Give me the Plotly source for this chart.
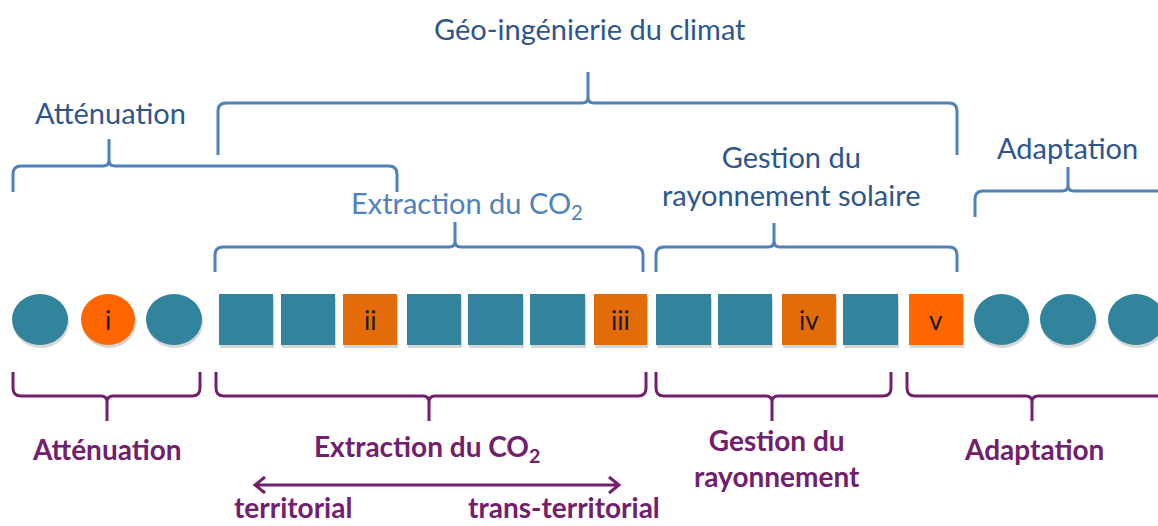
import plotly.graph_objects as go

# ---------------- data (diagram content) ----------------
item_kinds = ["circle", "circle", "circle",
              "square", "square", "square", "square", "square", "square",
              "square", "square", "square", "square", "square", "square",
              "circle", "circle", "circle"]
item_labels = ["", "i", "", "", "", "ii", "", "", "", "iii", "", "", "iv", "", "v", "", "", ""]
item_group = ["neutral", "bright", "neutral", "neutral", "neutral", "dark", "neutral", "neutral",
              "neutral", "dark", "neutral", "neutral", "dark", "neutral", "bright", "neutral",
              "neutral", "neutral"]

top_titles = ["Géo-ingénierie du climat", "Atténuation", "Extraction du CO<sub>2</sub>",
              "Gestion du<br>rayonnement solaire", "Adaptation"]
bottom_titles = ["Atténuation", "Extraction du CO<sub>2</sub>", "Gestion du<br>rayonnement",
                 "Adaptation"]
arrow_labels = ["territorial", "trans-territorial"]

# ---------------- layout geometry (positions / sizes) ----------------
item_x0 = [12, 81, 146, 219, 281, 343, 407, 468, 530, 594, 656, 718, 782, 843, 909, 974, 1040, 1108]
item_x1 = [68, 135, 202, 273, 335, 397, 461, 523, 585, 647, 711, 772, 836, 898, 963, 1029, 1096, 1164]
ITEM_Y0, ITEM_Y1 = 294, 345

# top brackets: x0, x1, xtip, y_horizontal, y_end, y_tip
top_brackets = [
    (218, 957, 588, 103, 155, 72),
    (13, 397, 109, 166, 192, 139),
    (215, 643, 455, 247, 272, 222),
    (656, 957, 774, 247, 272, 223),
    (975, 1175, 1068, 191, 217, 167),
]
top_text_pos = [(590, 28), (110, 112), (467, 204), (791, 175), (1067, 147)]
top_text_col = ["#2E568C", "#2E568C", "#4F81BD", "#2E568C", "#2E568C"]

bottom_brackets = [
    (13, 200, 107, 396, 372, 421),
    (216, 646, 429, 396, 372, 421),
    (656, 891, 772, 396, 372, 421),
    (907, 1175, 1032, 396, 372, 421),
]
bottom_text_pos = [(107, 449), (427, 448), (777, 458), (1034, 449)]
arrow_y, arrow_xa, arrow_xb = 485, 255, 619
arrow_text_pos = [(293, 526), (564, 526)]

COLORS = {"neutral": "#31849B", "bright": "#FF6600", "dark": "#E36C09"}
BLUE = "#4F81BD"
PURPLE = "#71206E"
FONT = "Lato"


def bracket_path(x0, x1, xt, yh, ye, yt, r=8, s=6):
    d = 1 if ye > yh else -1   # direction of the ends
    return (f"M {x0},{ye} L {x0},{yh + d * r} Q {x0},{yh} {x0 + r},{yh} "
            f"L {xt - s},{yh} Q {xt},{yh} {xt},{yh - d * s} L {xt},{yt} "
            f"L {xt},{yh - d * s} Q {xt},{yh} {xt + s},{yh} "
            f"L {x1 - r},{yh} Q {x1},{yh} {x1},{yh + d * r} L {x1},{ye}")


shapes = []
annotations = []

# items with soft shadow
for kind, lab, grp, x0, x1 in zip(item_kinds, item_labels, item_group, item_x0, item_x1):
    stype = "circle" if kind == "circle" else "rect"
    shapes.append(dict(type=stype, xref="x", yref="y", x0=x0 + 1, x1=x1 + 1,
                       y0=ITEM_Y0 + 3, y1=ITEM_Y1 + 3,
                       fillcolor="rgba(0,0,0,0.16)", line=dict(width=0), layer="below"))
    shapes.append(dict(type=stype, xref="x", yref="y", x0=x0, x1=x1, y0=ITEM_Y0, y1=ITEM_Y1,
                       fillcolor=COLORS[grp], line=dict(width=0), layer="below"))
    if lab:
        annotations.append(dict(x=(x0 + x1) / 2, y=(ITEM_Y0 + ITEM_Y1) / 2, xref="x", yref="y",
                                text=lab, showarrow=False,
                                font=dict(family=FONT, size=26, color="#1A1A1A")))

for (x0, x1, xt, yh, ye, yt) in top_brackets:
    shapes.append(dict(type="path", xref="x", yref="y",
                       path=bracket_path(x0, x1, xt, yh, ye, yt),
                       line=dict(color=BLUE, width=3)))
for (x0, x1, xt, yh, ye, yt) in bottom_brackets:
    shapes.append(dict(type="path", xref="x", yref="y",
                       path=bracket_path(x0, x1, xt, yh, ye, yt),
                       line=dict(color=PURPLE, width=3)))

for txt, (x, y), col in zip(top_titles, top_text_pos, top_text_col):
    annotations.append(dict(x=x, y=y, xref="x", yref="y", text=txt, showarrow=False,
                            font=dict(family=FONT, size=29, color=col)))
for txt, (x, y) in zip(bottom_titles, bottom_text_pos):
    annotations.append(dict(x=x, y=y, xref="x", yref="y", text=txt, showarrow=False,
                            font=dict(family=FONT, size=28, color=PURPLE, weight="bold")))
for txt, (x, y) in zip(arrow_labels, arrow_text_pos):
    annotations.append(dict(x=x, y=y, xref="x", yref="y", yanchor="bottom", text=txt,
                            showarrow=False,
                            font=dict(family=FONT, size=28, color=PURPLE, weight="bold")))

# double arrow
shapes.append(dict(type="path", xref="x", yref="y",
                   path=(f"M {arrow_xa},{arrow_y} L {arrow_xb},{arrow_y} "
                         f"M {arrow_xa + 10},{arrow_y - 8} L {arrow_xa},{arrow_y} L {arrow_xa + 10},{arrow_y + 8} "
                         f"M {arrow_xb - 10},{arrow_y - 8} L {arrow_xb},{arrow_y} L {arrow_xb - 10},{arrow_y + 8}"),
                   line=dict(color=PURPLE, width=3)))

fig = go.Figure()
fig.add_trace(go.Scatter(x=[0, 1158], y=[0, 526], mode="markers",
                         marker=dict(opacity=0), hoverinfo="skip", showlegend=False))
fig.update_layout(
    width=1158, height=526,
    margin=dict(l=0, r=0, t=0, b=0),
    paper_bgcolor="white", plot_bgcolor="white",
    xaxis=dict(range=[0, 1158], visible=False, fixedrange=True),
    yaxis=dict(range=[526, 0], visible=False, fixedrange=True),
    shapes=shapes, annotations=annotations, showlegend=False,
)
fig.write_html("out.html", config={"displayModeBar": False},
               post_script="document.body.style.margin='0';document.body.style.overflow='hidden';")
